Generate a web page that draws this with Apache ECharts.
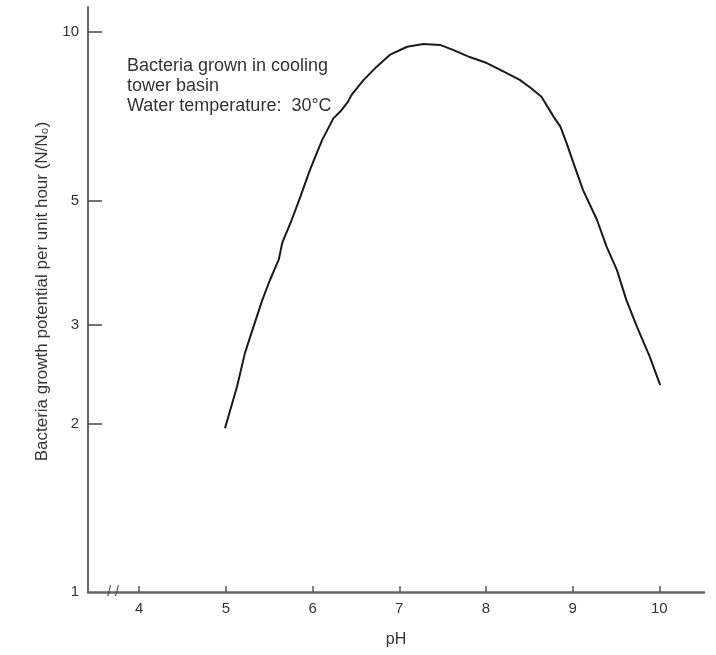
<!DOCTYPE html>
<html>
<head>
<meta charset="utf-8">
<script src="https://cdn.jsdelivr.net/npm/echarts@6/dist/echarts.min.js"></script>
<style>html,body{margin:0;padding:0;background:#fff}#c{width:716px;height:655px}</style>
</head>
<body>
<div id="c"></div>
<script>
var phValues = [4.99,5.13,5.22,5.32,5.42,5.51,5.61,5.65,5.76,5.86,5.97,6.11,6.24,6.32,6.41,6.45,6.59,6.74,6.89,7.09,7.28,7.47,7.62,7.82,8.01,8.20,8.39,8.51,8.64,8.78,8.86,8.93,9.01,9.12,9.28,9.39,9.51,9.62,9.74,9.89,10.01];
var growth = [1.96,2.33,2.67,2.98,3.32,3.61,3.92,4.20,4.62,5.08,5.67,6.41,7.01,7.21,7.51,7.72,8.21,8.67,9.10,9.41,9.52,9.48,9.29,9.01,8.80,8.50,8.21,7.96,7.66,7.06,6.77,6.33,5.83,5.22,4.62,4.14,3.76,3.32,2.98,2.63,2.34];
var xTicks = [4,5,6,7,8,9,10];
var yTicks = [1,2,3,5,10];
var yTickMarks = [2,3,5,10];
var annotation = ['Bacteria grown in cooling','tower basin','Water temperature:  30\u00B0C'];

var FONT = '"Liberation Sans Narrow","Liberation Sans",Arial,sans-serif';
var chart = echarts.init(document.getElementById('c'), null, {renderer:'canvas'});
var pts = phValues.map(function(p,i){return [p, growth[i]];});
chart.setOption({
  animation:false,
  backgroundColor:'#fff',
  grid:{left:88,right:12,top:7,bottom:63,containLabel:false},
  xAxis:{
    type:'value', min:3.41, max:10.515,
    name:'pH', nameLocation:'middle', nameGap:40,
    nameTextStyle:{fontFamily:FONT,fontSize:16,color:'#333'},
    axisLine:{show:true,lineStyle:{color:'#666',width:2.5}},
    axisTick:{show:true,inside:true,length:6,lineStyle:{color:'#555',width:1.5},customValues:xTicks},
    axisLabel:{fontFamily:FONT,fontSize:15,color:'#333',margin:9,customValues:xTicks},
    splitLine:{show:false}
  },
  yAxis:{
    type:'log', logBase:10, min:1, max:11.08,
    name:'Bacteria growth potential per unit hour (N/N\u2080)', nameLocation:'middle', nameGap:37,
    nameTextStyle:{fontFamily:FONT,fontSize:17,color:'#333',padding:[0,0,0,16]},
    axisLine:{show:true,lineStyle:{color:'#666',width:2}},
    axisTick:{show:true,inside:true,length:14,lineStyle:{color:'#444',width:1.5},customValues:yTickMarks},
    axisLabel:{fontFamily:FONT,fontSize:15,color:'#333',margin:9,customValues:yTicks},
    splitLine:{show:false}
  },
  graphic:[{
    type:'text', left:127, top:56,
    style:{text:annotation.join('\n'), font:'18px '+FONT, fill:'#333', lineHeight:20}
  }],
  series:[{
    type:'line', data:pts, showSymbol:false, smooth:false,
    lineStyle:{color:'#1a1a1a',width:2},
    markPoint:{
      symbol:'circle', symbolSize:0,
      label:{show:true,formatter:'/ /',fontFamily:FONT,fontSize:14,color:'#444',position:'inside'},
      data:[{coord:[3.70,1]}]
    }
  }]
});
</script>
</body>
</html>
